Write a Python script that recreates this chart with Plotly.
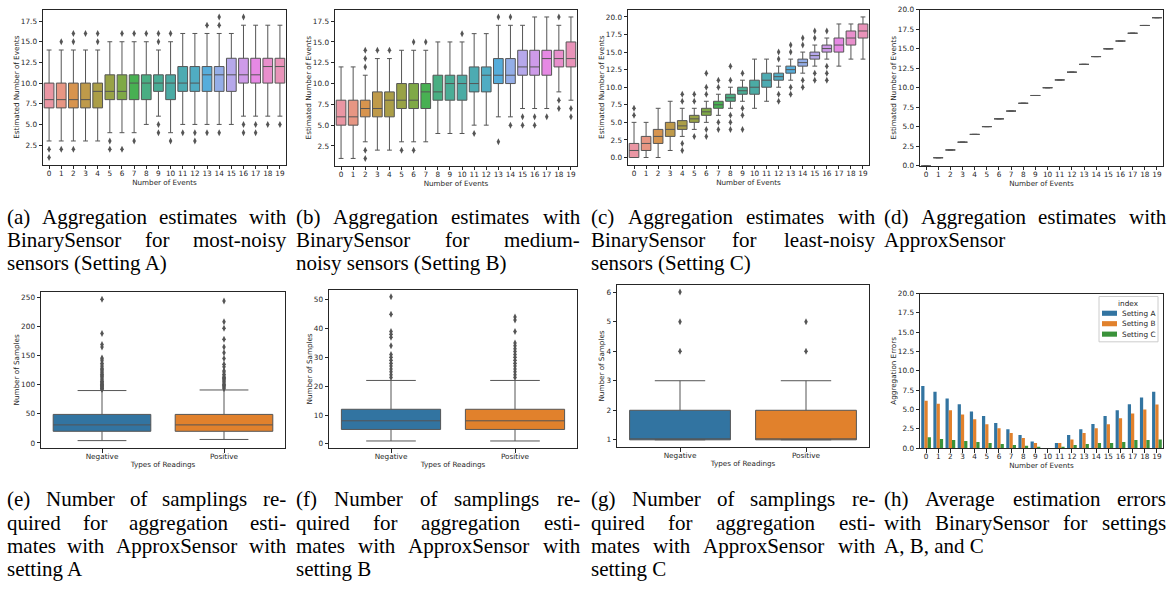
import math
import colorsys
import plotly.graph_objects as go

W, H = 1172, 596

# ---------------- data ----------------
EVENTS = list(range(20))

# (a) Setting A box statistics
A_Q1 = [7, 7, 7, 7, 7, 8, 8, 8, 8, 9, 8, 9, 9, 9, 9, 9, 10, 10, 10, 10]
A_MED = [8, 8, 8, 8, 9, 9, 9, 10, 10, 10, 10, 10, 10, 11, 11, 11, 11, 11, 12, 12]
A_Q3 = [10, 10, 10, 10, 10, 11, 11, 11, 11, 11, 11, 12, 12, 12, 12, 13, 13, 13, 13, 13]
A_LO = [3, 3, 3, 3, 3, 4, 4, 4, 5, 6, 4, 5, 5, 5, 5, 5, 6, 6, 6, 6]
A_HI = [14, 14, 14, 14, 14, 15, 15, 15, 15, 14, 15, 16, 16, 16, 16, 16, 17, 17, 17, 17]
A_OUT = [[1, 2], [2, 15], [2, 15, 16], [16], [15, 16], [2, 3], [2, 16], [3, 16], [16],
         [4, 5, 15, 16], [3, 16], [4], [3, 4], [4, 17], [4, 17, 18], [], [4, 5, 18],
         [4, 5], [5], [5]]

# (b) Setting B
B_Q1 = [5, 5, 6, 6, 6, 7, 7, 7, 8, 8, 8, 9, 9, 10, 10, 11, 11, 11, 12, 12]
B_MED = [6, 6, 7, 7, 8, 8, 8, 9, 9, 10, 10, 10, 11, 11, 11, 12, 12, 13, 13, 13]
B_Q3 = [8, 8, 8, 9, 9, 10, 10, 10, 11, 11, 11, 12, 12, 13, 13, 14, 14, 14, 14, 15]
B_LO = [1, 1, 3, 2, 2, 3, 3, 3, 4, 4, 4, 5, 5, 6, 6, 7, 7, 7, 9, 8]
B_HI = [12, 12, 11, 13, 13, 14, 14, 14, 15, 15, 15, 16, 16, 17, 17, 17, 18, 18, 17, 18]
B_OUT = [[], [], [1, 2, 12, 13, 14], [14], [14], [2], [2, 15], [15], [], [], [16], [4], [],
         [3, 18], [5, 18], [5, 6], [5, 6], [6], [7, 8, 18], [6, 7]]

# (c) Setting C
C_Q1 = [0, 1, 2, 3, 4, 5, 6, 7, 8, 9, 9, 10, 11, 12, 13, 14, 15, 15, 16, 17]
C_MED = [1, 2, 3, 4, 4.5, 5.5, 6.5, 7.5, 8.5, 9.5, 10, 11, 11.5, 12.5, 13.5, 14.5, 15.5, 16, 17, 18]
C_Q3 = [2, 3, 4, 5, 5.25, 6, 7, 8, 9, 10, 11, 12, 12, 13, 14, 15, 16, 17, 18, 19]
C_LO = [0, 0, 0, 1, 3, 4, 5, 6, 7, 8, 7, 8, 10, 11, 12, 13, 14, 13, 14, 14]
C_HI = [5, 5, 7, 8, 7, 7, 8, 9, 10, 11, 14, 14, 13, 14, 15, 16, 17, 19, 19, 20]
C_OUT = [[6, 7], [], [], [], [1, 2, 8, 9], [3, 8, 9], [3, 4, 9, 10, 12], [4, 5, 10, 11],
         [4, 5, 6, 11, 13], [4, 6, 7, 12], [], [], [8, 9, 14, 15], [9, 10, 15, 16],
         [10, 11, 16, 17], [11, 12, 17, 18], [11, 12, 13, 18], [], [], []]

# (d) ApproxSensor estimates (degenerate boxes)
D_VAL = [0, 1, 2, 3, 4, 5, 6, 7, 8, 9, 10, 11, 12, 13, 14, 15, 16, 17, 18, 19]

# (e)-(g) number of samples, [Negative, Positive]
READINGS = ["Negative", "Positive"]
E_Q1 = [20, 20]
E_MED = [31, 31]
E_Q3 = [49, 49]
E_LO = [4, 6]
E_HI = [90, 91]
E_OUT = [[92, 93, 94, 95, 96, 97, 98, 99, 100, 101, 102, 104, 105, 106, 108, 110, 112, 114,
          116, 118, 120, 122, 124, 126, 128, 131, 134, 137, 141, 144, 146, 165, 169, 188, 247],
         [93, 95, 97, 99, 101, 103, 105, 107, 109, 111, 113, 115, 118, 122, 124, 131, 135,
          145, 155, 165, 178, 197, 208, 244]]

F_Q1 = [5, 5]
F_MED = [8, 8]
F_Q3 = [12, 12]
F_LO = [1, 1]
F_HI = [22, 22]
F_OUT = [[23, 24, 25, 26, 27, 28, 29, 30, 31, 34, 37, 38, 39, 45, 51],
         [23, 24, 25, 26, 27, 28, 29, 30, 31, 32, 33, 34, 35, 39, 43, 44]]

G_Q1 = [1, 1]
G_MED = [1, 1]
G_Q3 = [2, 2]
G_LO = [1, 1]
G_HI = [3, 3]
G_OUT = [[4, 5, 6], [4, 5]]

# (h) average aggregation errors
SETTINGS = ["Setting A", "Setting B", "Setting C"]
H_A = [8.05, 7.29, 6.44, 5.68, 4.75, 4.15, 3.26, 2.46, 1.69, 0.85, 0.02,
       0.68, 1.69, 2.46, 3.13, 4.15, 4.9, 5.68, 6.57, 7.29]
H_B = [6.14, 5.76, 4.9, 4.36, 3.73, 3.09, 2.58, 1.95, 1.31, 0.68, 0.02,
       0.68, 1.14, 1.95, 2.58, 3.09, 3.86, 4.49, 5.0, 5.64]
H_C = [1.40, 1.19, 1.06, 0.93, 0.8, 0.68, 0.55, 0.42, 0.3, 0.17, 0.02,
       0.17, 0.42, 0.55, 0.68, 0.68, 0.8, 1.06, 1.06, 1.14]

CAPTIONS = {
    "a": ["(a) Aggregation estimates with", "BinarySensor for most-noisy", "sensors (Setting A)"],
    "b": ["(b) Aggregation estimates with", "BinarySensor for medium-", "noisy sensors (Setting B)"],
    "c": ["(c) Aggregation estimates with", "BinarySensor for least-noisy", "sensors (Setting C)"],
    "d": ["(d) Aggregation estimates with", "ApproxSensor"],
    "e": ["(e) Number of samplings re-", "quired for aggregation esti-",
          "mates with ApproxSensor with", "setting A"],
    "f": ["(f) Number of samplings re-", "quired for aggregation esti-",
          "mates with ApproxSensor with", "setting B"],
    "g": ["(g) Number of samplings re-", "quired for aggregation esti-",
          "mates with ApproxSensor with", "setting C"],
    "h": ["(h) Average estimation errors", "with BinarySensor for settings", "A, B, and C"],
}

# ---------------- colours (seaborn husl palette, desaturated) ----------------
_M = [[3.2406, -1.5372, -0.4986], [-0.9689, 1.8758, 0.0415], [0.0557, -0.2040, 1.0570]]
_refU, _refV = 0.19784, 0.46834


def _max_chroma(L, Hh):
    hrad = math.radians(Hh)
    sinH, cosH = math.sin(hrad), math.cos(hrad)
    sub1 = (L + 16) ** 3 / 1560896.0
    sub2 = sub1 if sub1 > 0.008856 else L / 903.3
    result = float("inf")
    for m1, m2, m3 in _M:
        top = (0.99915 * m1 + 1.05122 * m2 + 1.14460 * m3) * sub2
        rb = 0.86330 * m3 - 0.17266 * m2
        lb = 0.12949 * m3 - 0.38848 * m1
        bottom = (rb * sinH + lb * cosH) * sub2
        for t in (0.0, 1.0):
            C = L * (top - 1.05122 * t) / (bottom + 0.17266 * sinH * t)
            if 0.0 < C < result:
                result = C
    return result


def _husl_to_rgb(h, s, l):
    C = _max_chroma(l, h) / 100.0 * s
    U = math.cos(math.radians(h)) * C
    V = math.sin(math.radians(h)) * C
    t = (l + 16.0) / 116.0
    varY = t ** 3 if t ** 3 > 0.008856 else (116.0 * t - 16.0) / 903.3
    varU = U / (13.0 * l) + _refU
    varV = V / (13.0 * l) + _refV
    Y = varY
    X = -(9.0 * Y * varU) / ((varU - 4.0) * varV - varU * varV)
    Z = (9.0 * Y - 15.0 * varV * Y - varV * X) / (3.0 * varV)
    out = []
    for row in _M:
        c = row[0] * X + row[1] * Y + row[2] * Z
        c = 12.92 * c if c <= 0.0031308 else 1.055 * c ** (1 / 2.4) - 0.055
        out.append(min(1, max(0, c)))
    return out


def husl_palette(n, s=.9, l=.7, h=.01):
    res = []
    for i in range(n):
        hue = ((i / n + h) % 1) * 359
        res.append(_husl_to_rgb(hue, s * 99, l * 99))
    return res


def desat(rgb, p=0.75):
    hh, ll, ss = colorsys.rgb_to_hls(*rgb)
    return colorsys.hls_to_rgb(hh, ll, ss * p)


def hexc(rgb):
    return "#%02x%02x%02x" % tuple(int(round(max(0, min(1, c)) * 255)) for c in rgb)


BOX20 = [hexc(desat(c)) for c in husl_palette(20)]
BLUE, ORANGE, GREEN = "#3274a1", "#e1812c", "#3a923a"
SET_COLORS = [BLUE, ORANGE, GREEN]
GRAY = "#555555"
DARK = "#262626"

# ---------------- layout geometry (pixels) ----------------
PANELS = {
    "a": (43, 286, 6, 163), "b": (335, 577, 6, 164), "c": (628, 869, 6, 163),
    "d": (920, 1163, 6, 164), "e": (41, 285, 292, 451), "f": (329, 577, 290, 451),
    "g": (617, 869, 285, 450), "h": (920, 1163, 294, 451),
}
KEYS = "abcdefgh"

fig = go.Figure()


def axn(k):
    i = KEYS.index(k) + 1
    return ("x" if i == 1 else "x%d" % i), ("y" if i == 1 else "y%d" % i)


def add_boxes(k, pos, q1, med, q3, lo, hi, outs, colors, width=0.8):
    xa, ya = axn(k)
    for i in range(len(pos)):
        fig.add_trace(go.Box(
            x=[pos[i]], q1=[q1[i]], median=[med[i]], q3=[q3[i]],
            lowerfence=[lo[i]], upperfence=[hi[i]], width=width, whiskerwidth=0.5,
            fillcolor=colors[i], line=dict(color=GRAY, width=1), boxpoints=False,
            xaxis=xa, yaxis=ya, showlegend=False, hoverinfo="skip"))
    ox, oy = [], []
    for i, o in enumerate(outs):
        ox += [pos[i]] * len(o)
        oy += o
    fig.add_trace(go.Scatter(
        x=ox, y=oy, mode="markers", xaxis=xa, yaxis=ya, showlegend=False,
        marker=dict(symbol="diamond-tall", size=5, color=GRAY, line=dict(width=0)),
        hoverinfo="skip"))


add_boxes("a", EVENTS, A_Q1, A_MED, A_Q3, A_LO, A_HI, A_OUT, BOX20)
add_boxes("b", EVENTS, B_Q1, B_MED, B_Q3, B_LO, B_HI, B_OUT, BOX20)
add_boxes("c", EVENTS, C_Q1, C_MED, C_Q3, C_LO, C_HI, C_OUT, BOX20)
add_boxes("d", EVENTS, D_VAL, D_VAL, D_VAL, D_VAL, D_VAL, [[] for _ in D_VAL], BOX20)
RPOS = [0, 1]
add_boxes("e", RPOS, E_Q1, E_MED, E_Q3, E_LO, E_HI, E_OUT, [BLUE, ORANGE])
add_boxes("f", RPOS, F_Q1, F_MED, F_Q3, F_LO, F_HI, F_OUT, [BLUE, ORANGE])
add_boxes("g", RPOS, G_Q1, G_MED, G_Q3, G_LO, G_HI, G_OUT, [BLUE, ORANGE])

xh, yh = axn("h")
for name, vals, col in zip(SETTINGS, [H_A, H_B, H_C], SET_COLORS):
    fig.add_trace(go.Bar(x=EVENTS, y=vals, name=name, marker=dict(color=col, line=dict(width=0)),
                         xaxis=xh, yaxis=yh, hoverinfo="skip", showlegend=False))

TICKF = dict(family="DejaVu Sans", size=7.3, color=DARK)
TITLEF = dict(family="DejaVu Sans", size=7.2, color=DARK)

YSPEC = {
    "a": ("Estimated Number of Events", [0.15, 18.85], [2.5, 5, 7.5, 10, 12.5, 15, 17.5], ".1f"),
    "b": ("Estimated Number of Events", [0.15, 18.85], [2.5, 5, 7.5, 10, 12.5, 15, 17.5], ".1f"),
    "c": ("Estimated Number of Events", [-1, 21], [0, 2.5, 5, 7.5, 10, 12.5, 15, 17.5, 20], ".1f"),
    "d": ("Estimated Number of Events", [0, 20], [0, 2.5, 5, 7.5, 10, 12.5, 15, 17.5, 20], ".1f"),
    "e": ("Number of Samples", [-9, 260], [0, 50, 100, 150, 200, 250], "d"),
    "f": ("Number of Samples", [-1.5, 53.5], [0, 10, 20, 30, 40, 50], "d"),
    "g": ("Number of Samples", [0.75, 6.25], [1, 2, 3, 4, 5, 6], "d"),
    "h": ("Aggregation Errors", [0, 20], [0, 2.5, 5, 7.5, 10, 12.5, 15, 17.5, 20], ".1f"),
}

layout = {}
for k in KEYS:
    L, R, T, B = PANELS[k]
    i = KEYS.index(k) + 1
    sx = "" if i == 1 else str(i)
    common = dict(showline=True, mirror=True, linecolor=DARK, linewidth=1, ticks="outside",
                  ticklen=3.5, tickwidth=1, tickcolor=DARK, showgrid=False, zeroline=False,
                  tickfont=TICKF)
    if k in "efg":
        xt = dict(tickmode="array", tickvals=RPOS, ticktext=READINGS, range=[-0.5, 1.5])
        xtitle = "Types of Readings"
    else:
        xt = dict(tickmode="array", tickvals=EVENTS, ticktext=[str(v) for v in EVENTS],
                  range=[-0.5, 19.5])
        xtitle = "Number of Events"
    layout["xaxis" + sx] = dict(domain=[L / W, R / W], anchor="y" + sx, ticklabelstandoff=-2,
                                title=dict(text=xtitle, font=TITLEF, standoff=1), **xt, **common)
    yt, yr, yv, yf = YSPEC[k]
    layout["yaxis" + sx] = dict(domain=[1 - B / H, 1 - T / H], anchor="x" + sx, range=yr,
                                tickmode="array", tickvals=yv, tickformat=yf,
                                title=dict(text=yt, font=TITLEF, standoff=0), **common)

# ---------------- captions (justified like the LaTeX source) ----------------
TW = {" ": 250, "(": 333, ")": 333, ",": 250, "-": 333, ".": 250,
      "A": 722, "B": 667, "C": 667, "D": 722, "E": 611, "F": 556, "G": 722, "H": 722,
      "I": 333, "J": 389, "K": 722, "L": 611, "M": 889, "N": 722, "O": 722, "P": 556,
      "Q": 722, "R": 667, "S": 556, "T": 611, "U": 722, "V": 722, "W": 944, "X": 722,
      "Y": 722, "Z": 611, "a": 444, "b": 500, "c": 444, "d": 500, "e": 444, "f": 333,
      "g": 500, "h": 500, "i": 278, "j": 278, "k": 500, "l": 278, "m": 778, "n": 500,
      "o": 500, "p": 500, "q": 500, "r": 333, "s": 389, "t": 278, "u": 500, "v": 500,
      "w": 722, "x": 500, "y": 500, "z": 444}
CAP_FS = 21
COLS = {"a": (7, 286, 216), "b": (296, 580, 216), "c": (591, 875, 216), "d": (884, 1166, 216),
        "e": (7, 286, 503), "f": (296, 580, 503), "g": (591, 875, 503), "h": (884, 1166, 503)}
PITCH = 23.6
annotations = []


def ww(word):
    return sum(TW.get(ch, 500) for ch in word) / 1000.0 * CAP_FS


def put(text, x, y, size=CAP_FS, family="Liberation Serif, Times New Roman, serif",
        anchor="left"):
    annotations.append(dict(text=text, x=x / W, y=1 - y / H, xref="paper", yref="paper",
                            xanchor=anchor, yanchor="middle", showarrow=False, borderpad=0,
                            borderwidth=0,
                            font=dict(family=family, size=size, color="black" if size == CAP_FS else DARK)))


for k in KEYS:
    x0, x1, y0 = COLS[k]
    lines = CAPTIONS[k]
    for j, line in enumerate(lines):
        y = y0 + j * PITCH
        words = line.split(" ")
        if j == len(lines) - 1 or len(words) == 1:
            put(line, x0, y)
            continue
        widths = [ww(w) for w in words]
        gap = (x1 - x0 - sum(widths)) / (len(words) - 1)
        x = x0
        for w, wd in zip(words, widths):
            put(w, x, y)
            x += wd + gap

# ---------------- legend of panel (h), drawn like matplotlib's ----------------
shapes = [dict(type="rect", xref="paper", yref="paper", x0=1099 / W, x1=1158 / W,
               y0=1 - 343 / H, y1=1 - 297 / H, line=dict(color="#cccccc", width=1),
               fillcolor="rgba(255,255,255,0.85)", layer="above")]
put("index", 1128.5, 304, size=7.3, family="DejaVu Sans", anchor="center")
for j, (name, col) in enumerate(zip(SETTINGS, SET_COLORS)):
    yc = 314 + j * 10.6
    shapes.append(dict(type="rect", xref="paper", yref="paper", x0=1102 / W, x1=1117 / W,
                       y0=1 - (yc + 2.6) / H, y1=1 - (yc - 2.6) / H,
                       line=dict(width=0), fillcolor=col, layer="above"))
    put(name, 1122, yc, size=7.3, family="DejaVu Sans")

fig.update_layout(
    width=W, height=H, autosize=False, margin=dict(l=0, r=0, t=0, b=0),
    paper_bgcolor="white", plot_bgcolor="white",
    barmode="group", bargap=0.2, bargroupgap=0,
    annotations=annotations, shapes=shapes, showlegend=False,
    **layout,
)

fig.write_html("out.html", config={"displayModeBar": False, "staticPlot": True},
               post_script="document.body.style.margin='0';document.body.style.overflow='hidden';")
